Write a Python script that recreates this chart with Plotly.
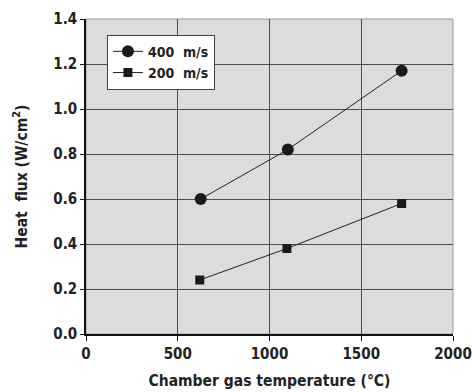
import plotly.graph_objects as go

temps_400 = [625, 1100, 1720]
flux_400 = [0.60, 0.82, 1.17]
temps_200 = [620, 1095, 1720]
flux_200 = [0.24, 0.38, 0.58]

x_ticks = [0, 500, 1000, 1500, 2000]
y_ticks = [0.0, 0.2, 0.4, 0.6, 0.8, 1.0, 1.2, 1.4]

FONT = "DejaVu Sans Condensed, Liberation Sans Narrow, Liberation Sans, Arial"

fig = go.Figure()
fig.add_trace(go.Scatter(x=temps_400, y=flux_400, mode="lines+markers", name="<b>400  m/s</b>",
                         line=dict(color="#222", width=1),
                         marker=dict(symbol="circle", size=12, color="#1a1a1a")))
fig.add_trace(go.Scatter(x=temps_200, y=flux_200, mode="lines+markers", name="<b>200  m/s</b>",
                         line=dict(color="#222", width=1),
                         marker=dict(symbol="square", size=9, color="#1a1a1a")))

fig.update_layout(
    width=472, height=392,
    margin=dict(l=86, r=19, t=19, b=58, autoexpand=False),
    paper_bgcolor="white", plot_bgcolor="#dcdcde",
    font=dict(family=FONT, color="#222", size=14),
    showlegend=True,
    legend=dict(x=0.057, y=0.95, xanchor="left", yanchor="top",
                bgcolor="white", bordercolor="#444", borderwidth=1,
                font=dict(family=FONT, size=14, color="#222"),
                itemwidth=30, tracegroupgap=0),
    xaxis=dict(range=[0, 2000], tickvals=x_ticks, ticktext=["<b>%d</b>" % v for v in x_ticks],
               automargin=False,
               showgrid=True, gridcolor="#4d4d4d", gridwidth=1.2,
               showline=True, linecolor="#111", linewidth=1.5, mirror=False,
               ticks="outside", ticklen=5, tickcolor="#111",
               tickfont=dict(family=FONT, size=15, color="#222"),
               title=dict(text="<b>Chamber gas temperature (°C)</b>", standoff=13,
                          font=dict(family=FONT, size=15.5, color="#222")),
               zeroline=False),
    yaxis=dict(range=[0, 1.4], tickvals=y_ticks, ticktext=["<b>%.1f</b>" % v for v in y_ticks],
               automargin=False,
               showgrid=True, gridcolor="#4d4d4d", gridwidth=1.2,
               showline=True, linecolor="#111", linewidth=1.5,
               ticks="outside", ticklen=4, tickcolor="#111",
               tickfont=dict(family=FONT, size=15, color="#222"),
               title=dict(text="<b>Heat  flux (W/cm<sup>2</sup>)</b>", standoff=22,
                          font=dict(family=FONT, size=15.5, color="#222")),
               zeroline=False),
)

# light frame on top/right
fig.add_shape(type="rect", xref="paper", yref="paper", x0=0, y0=0, x1=1, y1=1,
              line=dict(color="#999", width=1), layer="below")

fig.write_html("out.html")
